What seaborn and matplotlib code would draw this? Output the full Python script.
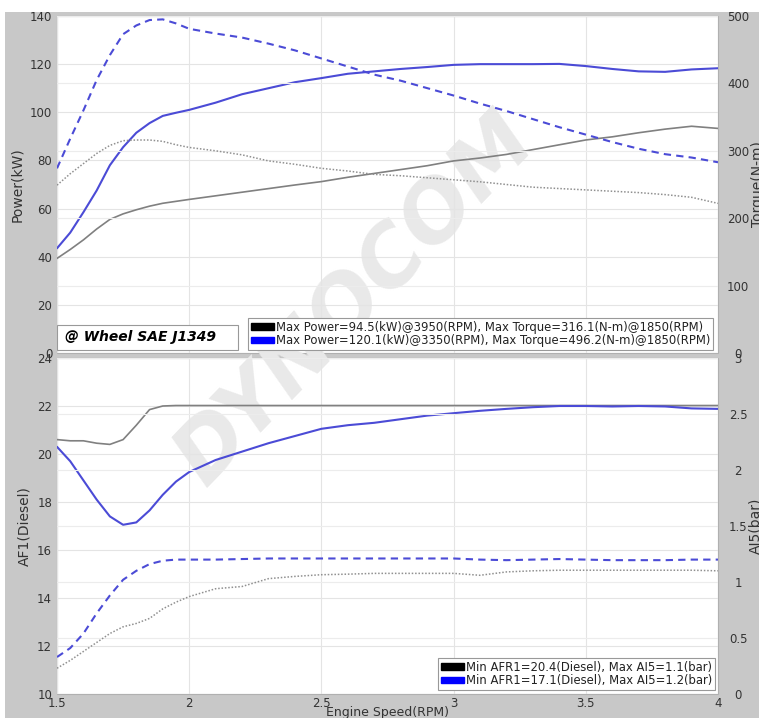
import numpy as np
import pandas as pd
import matplotlib
matplotlib.use("Agg")
import matplotlib.pyplot as plt
import seaborn as sns
from matplotlib.patches import Patch, Rectangle

# engine speed in 1000 RPM
rpm = [1.5, 1.55, 1.6, 1.65, 1.7, 1.75, 1.8, 1.85, 1.9, 1.95, 2.0,
       2.1, 2.2, 2.3, 2.4, 2.5, 2.6, 2.7, 2.8, 2.9, 3.0,
       3.1, 3.2, 3.3, 3.4, 3.5, 3.6, 3.7, 3.8, 3.9, 4.0]

# run 1 (gray)
power_1 = [39.3, 43, 47, 51.5, 55.5, 57.8, 59.5, 61, 62.2, 63, 63.8,
           65.3, 66.8, 68.3, 69.8, 71.2, 73, 74.6, 76.2, 77.8, 79.8,
           81, 82.5, 84.5, 86.5, 88.5, 89.8, 91.5, 93, 94.2, 93.3]
torque_1 = [249, 266, 281, 296, 308, 315, 316, 316, 314, 309, 305,
            300, 294, 285, 280, 274, 270, 265, 263, 260, 257,
            254, 250, 246, 244, 242, 240, 238, 235, 231, 222]
afr_1 = [20.6, 20.55, 20.55, 20.45, 20.4, 20.6, 21.2, 21.85, 22.0, 22.02, 22.02,
         22.02, 22.02, 22.02, 22.02, 22.02, 22.02, 22.02, 22.02, 22.02, 22.02,
         22.02, 22.02, 22.02, 22.02, 22.02, 22.02, 22.02, 22.02, 22.02, 22.02]
ai5_1 = [0.23, 0.3, 0.38, 0.46, 0.54, 0.6, 0.63, 0.675, 0.76, 0.82, 0.87,
         0.94, 0.96, 1.03, 1.05, 1.065, 1.07, 1.077, 1.077, 1.077, 1.077,
         1.06, 1.09, 1.1, 1.105, 1.105, 1.105, 1.105, 1.105, 1.105, 1.1]

# run 2 (blue)
power_2 = [43.5, 50, 58.5, 67.5, 78, 85.5, 91.5, 95.5, 98.5, 99.8, 101,
           104, 107.5, 110, 112.5, 114.2, 116, 117, 118, 118.8, 119.7,
           120, 120, 120, 120.1, 119.2, 118, 117, 116.8, 117.8, 118.3]
torque_2 = [274, 318, 360, 405, 442, 473, 486, 494, 495, 489, 481,
            474, 468, 459, 449, 437, 425, 413, 404, 393, 382,
            370, 359, 347, 335, 324, 313, 303, 295, 290, 283]
afr_2 = [20.3, 19.7, 18.9, 18.1, 17.4, 17.05, 17.15, 17.65, 18.3, 18.85, 19.25,
         19.75, 20.1, 20.45, 20.75, 21.05, 21.2, 21.3, 21.45, 21.6, 21.7,
         21.8, 21.88, 21.95, 22.0, 22.0, 21.98, 22.0, 21.98, 21.9, 21.88]
ai5_2 = [0.33, 0.41, 0.54, 0.72, 0.88, 1.02, 1.1, 1.16, 1.19, 1.2, 1.2,
         1.2, 1.205, 1.21, 1.21, 1.21, 1.21, 1.21, 1.21, 1.21, 1.21,
         1.2, 1.195, 1.2, 1.205, 1.2, 1.195, 1.195, 1.195, 1.2, 1.2]

top_legend = ["Max Power=94.5(kW)@3950(RPM), Max Torque=316.1(N-m)@1850(RPM)",
              "Max Power=120.1(kW)@3350(RPM), Max Torque=496.2(N-m)@1850(RPM)"]
bottom_legend = ["Min AFR1=20.4(Diesel), Max AI5=1.1(bar)",
                 "Min AFR1=17.1(Diesel), Max AI5=1.2(bar)"]

df = pd.DataFrame({"rpm": rpm, "p1": power_1, "t1": torque_1, "a1": afr_1, "i1": ai5_1,
                   "p2": power_2, "t2": torque_2, "a2": afr_2, "i2": ai5_2})

sns.set_style("white")
plt.rcParams["font.family"] = ["DejaVu Sans"]

BLUE = "#4b4bd6"
GRAY = "#808080"
TXT = "#333333"
W, H = 759, 718

fig = plt.figure(figsize=(7.59, 7.18), dpi=100)
fig.patch.set_facecolor("white")
fig.add_artist(Rectangle((5 / W, 0), 1, 1 - 12 / H, transform=fig.transFigure,
                         facecolor="#c8c8c8", edgecolor="none", zorder=-10))

pos_top = [57 / W, 1 - 353 / H, 661 / W, 337 / H]
pos_bot = [57 / W, 1 - 694 / H, 661 / W, 336 / H]
for p in (pos_top, pos_bot):
    fig.add_artist(Rectangle((p[0], p[1]), p[2], p[3], transform=fig.transFigure,
                             facecolor="white", edgecolor="#b0b0b0", lw=0.8, zorder=-6))

# watermark
fig.text(355 / W, 1 - 300 / H, "DYNOCOM", rotation=46, fontsize=60, fontweight="heavy",
         fontstyle="italic", color="#e9e9e9", ha="center", va="center", zorder=-5)

ax1 = fig.add_axes(pos_top)
ax2 = fig.add_axes(pos_bot)
ax1r = ax1.twinx()
ax2r = ax2.twinx()

for a in (ax1, ax2, ax1r, ax2r):
    a.set_facecolor("none")
    for s in a.spines.values():
        s.set_visible(False)
    a.set_xlim(1.5, 4)
    a.tick_params(length=0, labelsize=8.5, labelcolor=TXT)

# top panel
sns.lineplot(data=df, x="rpm", y="p1", ax=ax1, color=GRAY, lw=1.2, legend=False)
sns.lineplot(data=df, x="rpm", y="p2", ax=ax1, color=BLUE, lw=1.5, legend=False)
sns.lineplot(data=df, x="rpm", y="t1", ax=ax1r, color="#909090", lw=1.1,
             linestyle=(0, (1, 1.2)), legend=False)
sns.lineplot(data=df, x="rpm", y="t2", ax=ax1r, color=BLUE, lw=1.5,
             linestyle=(0, (3.5, 2.5)), legend=False)

# bottom panel
sns.lineplot(data=df, x="rpm", y="a1", ax=ax2, color=GRAY, lw=1.2, legend=False)
sns.lineplot(data=df, x="rpm", y="a2", ax=ax2, color=BLUE, lw=1.5, legend=False)
sns.lineplot(data=df, x="rpm", y="i1", ax=ax2r, color="#909090", lw=1.1,
             linestyle=(0, (1, 1.2)), legend=False)
sns.lineplot(data=df, x="rpm", y="i2", ax=ax2r, color=BLUE, lw=1.5,
             linestyle=(0, (3.5, 2.5)), legend=False)

xt = [1.5, 2, 2.5, 3, 3.5, 4]
for a in (ax1, ax2):
    a.set_xticks(xt)
    a.grid(True, axis="both", color="#e4e4e4", lw=0.8)
    a.set_axisbelow(True)
for a in (ax1r, ax2r):
    a.grid(True, axis="y", color="#ececec", lw=0.8)

ax1.set_ylim(0, 140)
ax1.set_yticks(range(0, 141, 20))
ax1r.set_ylim(0, 500)
ax1r.set_yticks(range(0, 501, 100))
ax1.set_xticklabels([])
ax1r.set_xticklabels([])

ax2.set_ylim(10, 24)
ax2.set_yticks(range(10, 25, 2))
ax2r.set_ylim(0, 3)
ax2r.set_yticks([0, 0.5, 1, 1.5, 2, 2.5, 3])
ax2r.set_yticklabels(["0", "0.5", "1", "1.5", "2", "2.5", "3"])
ax2.set_xticklabels(["1.5", "2", "2.5", "3", "3.5", "4"])
ax2.tick_params(axis="x", pad=2)

for a in (ax1r, ax2r):
    a.tick_params(axis="y", pad=14.5)
    for lab in a.get_yticklabels():
        lab.set_ha("center")
    a.set_xlabel("")

ax1.set_ylabel("Power(kW)", fontsize=10, color=TXT)
ax2.set_ylabel("AF1(Diesel)", fontsize=10, color=TXT)
ax1r.set_ylabel("Torque(N-m)", fontsize=10, color=TXT, labelpad=1)
ax2r.set_ylabel("AI5(bar)", fontsize=10, color=TXT, labelpad=1)
ax1.set_xlabel("")
ax2.set_xlabel("Engine Speed(RPM)", fontsize=9, color=TXT, labelpad=-3)

# legends
handles = [Patch(facecolor="black", edgecolor="black"),
           Patch(facecolor="#0000ff", edgecolor="#0000ff")]
leg_kw = dict(loc="lower right", borderaxespad=0, fancybox=False, framealpha=1,
              edgecolor="#999999", fontsize=8.4, borderpad=0.25, handlelength=2.0,
              handleheight=0.5, handletextpad=0.15, labelspacing=0.05)
l1 = ax1r.legend(handles, top_legend, bbox_to_anchor=(1 - 5 / 661, 3 / 337), **leg_kw)
l2 = ax2r.legend(handles, bottom_legend, bbox_to_anchor=(1 - 3 / 661, 4 / 336), **leg_kw)
for lg in (l1, l2):
    lg.get_frame().set_linewidth(0.8)
    for t in lg.get_texts():
        t.set_color("#222222")

ax1r.add_patch(Rectangle((0, 3 / 337), 181 / 661, 25 / 337, transform=ax1r.transAxes,
                         facecolor="white", edgecolor="#999999", lw=0.8, zorder=5))
ax1r.text(0.127, 16 / 337, "@ Wheel SAE J1349", transform=ax1r.transAxes, ha="center",
          va="center", fontsize=10, fontweight="bold", fontstyle="italic",
          color="black", zorder=6)

fig.savefig("out.png", dpi=100)
